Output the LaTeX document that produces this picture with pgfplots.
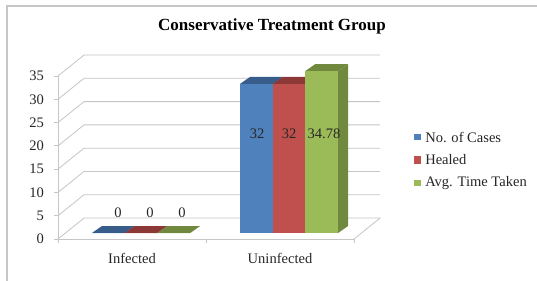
\documentclass[border=0pt]{standalone}
\usepackage{fontspec}
\setmainfont{Liberation Serif}
\usepackage{pgfplots}
\pgfplotsset{compat=1.18}
\definecolor{cblue}{HTML}{4F81BD}
\definecolor{cbluet}{HTML}{385D8A}
\definecolor{cred}{HTML}{C0504D}
\definecolor{credt}{HTML}{8C3836}
\definecolor{cgreen}{HTML}{9BBB59}
\definecolor{cgreent}{HTML}{71893F}
\definecolor{gridc}{HTML}{C6C6C6}
% #1 bar centre (x), #2 value, #3 front colour, #4 top/side colour
\newcommand{\barthree}[4]{%
  \pgfmathsetmacro{\xa}{#1-0.1105}%
  \pgfmathsetmacro{\xb}{#1+0.1105}%
  \pgfmathsetmacro{\ya}{1.29}%
  \pgfmathsetmacro{\yb}{1.29+#2}%
  \pgfmathsetmacro{\xc}{\xa+0.0676}%
  \pgfmathsetmacro{\xd}{\xb+0.0676}%
  \pgfmathsetmacro{\yc}{\ya+1.5}%
  \pgfmathsetmacro{\yd}{\yb+1.5}%
  \edef\temp{\noexpand\addplot[fill=#4,draw=none,forget plot] coordinates {(\xb,\ya) (\xd,\yc) (\xd,\yd) (\xb,\yb)};}\temp
  \edef\temp{\noexpand\addplot[fill=#4,draw=none,forget plot] coordinates {(\xa,\yb) (\xb,\yb) (\xd,\yd) (\xc,\yd)};}\temp
  \edef\temp{\noexpand\addplot[fill=#3,draw=none,forget plot] coordinates {(\xa,\ya) (\xb,\ya) (\xb,\yb) (\xa,\yb)};}\temp
}
\begin{document}
\begin{tikzpicture}
\useasboundingbox (0,0) rectangle (402.75pt,210.75pt);
\fill[white] (0,0) rectangle (402.75pt,210.75pt);
\draw[gray!45, line width=0.8pt] (5.25pt,0) -- (5.25pt,206.25pt) -- (402.75pt,206.25pt);
\node[font=\fontsize{12.75pt}{15pt}\selectfont\bfseries] at (204pt,191.25pt) {Conservative Treatment Group};
\begin{axis}[
  at={(43.5pt,31.5pt)}, anchor=south west,
  scale only axis, width=222pt, height=122.25pt,
  xmin=-0.5, xmax=1.5, ymin=0, ymax=35,
  clip=false,
  axis x line=bottom, axis y line=left,
  axis line style={gridc, -, line width=0.6pt},
  xtick={0,1}, xticklabels={Infected,Uninfected},
  xtick style={draw=none},
  ytick={0,5,...,35},
  ytick style={draw=gridc, line width=0.6pt},
  tick align=outside, major tick length=3pt,
  /pgf/number format/assume math mode=true,
  tick label style={font=\fontsize{10.9pt}{12pt}\selectfont, text=black!85},
  xticklabel style={yshift=-4pt},
  yticklabel style={xshift=-4pt},
]
% back wall grid lines and diagonals
\pgfplotsinvokeforeach{5,10,15,20,25,30,35}{
  \addplot[gridc, line width=0.6pt, forget plot] coordinates {(-0.5,#1) (-0.3243,#1+4.5) (1.676,#1+4.5)};
}
\addplot[gridc, line width=0.6pt, forget plot] coordinates {(-0.5,0) (-0.3243,4.5) (1.676,4.5) (1.5,0)};
% category tick marks
\addplot[gridc, line width=0.6pt, forget plot] coordinates {(-0.5,0) (-0.5,-0.9)};
\addplot[gridc, line width=0.6pt, forget plot] coordinates {(0.5,0) (0.5,-0.9)};
\addplot[gridc, line width=0.6pt, forget plot] coordinates {(1.5,0) (1.5,-0.9)};
% Infected
\barthree{-0.16}{0}{cblue}{cbluet}
\barthree{0.061}{0}{cred}{credt}
\barthree{0.282}{0}{cgreen}{cgreent}
% Uninfected
\barthree{0.84}{32}{cblue}{cbluet}
\barthree{1.061}{32}{cred}{credt}
\barthree{1.282}{34.78}{cgreen}{cgreent}
% data labels
\begin{scope}[every node/.style={font=\fontsize{10.9pt}{12pt}\selectfont, text=black!85}]
\node at (axis cs:-0.095,5.6) {0};
\node at (axis cs:0.122,5.6) {0};
\node at (axis cs:0.338,5.6) {0};
\node at (axis cs:0.845,22.7) {32};
\node at (axis cs:1.061,22.7) {32};
\node at (axis cs:1.297,22.5) {34.78};
\end{scope}
\end{axis}
% legend
\begin{scope}[every node/.style={font=\fontsize{10.9pt}{12pt}\selectfont, text=black!85, anchor=west, inner sep=0pt}]
\fill[cblue] (310.5pt,105.4pt) rectangle (315.75pt,110.6pt);
\node at (318.75pt,108pt) {No. of Cases};
\fill[cred] (310.5pt,88.1pt) rectangle (315.75pt,93.4pt);
\node at (318.75pt,90.75pt) {Healed};
\fill[cgreen] (310.5pt,70.9pt) rectangle (315.75pt,76.1pt);
\node at (318.75pt,73.5pt) {Avg. Time Taken};
\end{scope}
\end{tikzpicture}
\end{document}
